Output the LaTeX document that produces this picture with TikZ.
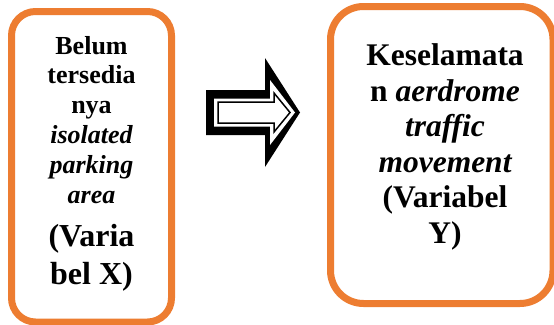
\documentclass[tikz,border=0pt]{standalone}
\usepackage{fontspec}
\setmainfont{Liberation Serif}
\definecolor{boxorange}{HTML}{ED7D31}
\begin{document}
\begin{tikzpicture}[x=1pt,y=-1pt,
  varbox/.style={draw=boxorange, line width=7pt, fill=white, inner sep=0pt},
  smalltxt/.style={anchor=base, inner sep=0pt, font=\fontsize{26}{30}\selectfont\bfseries},
  bigtxt/.style={anchor=base, inner sep=0pt, font=\fontsize{32}{38}\selectfont\bfseries},
  righttxt/.style={anchor=base, inner sep=0pt, font=\fontsize{31.5}{36}\selectfont\bfseries}]
\useasboundingbox (0,0) rectangle (554,324);
% boxes
\node[varbox, rounded corners=24pt, minimum width=160pt, minimum height=310.5pt] (X) at (91.5,166.75) {};
\node[varbox, rounded corners=33pt, minimum width=222.5pt, minimum height=297pt] (Y) at (441.75,155) {};
% left text
\node[smalltxt] (l1) at (91.5,54) {Belum};
\node[smalltxt] (l2) at (91.5,83.8) {tersedia};
\node[smalltxt] (l3) at (91.5,113.6) {nya};
\node[smalltxt] (l4) at (91.5,143.4) {\itshape isolated};
\node[smalltxt] (l5) at (91.5,173.2) {\itshape parking};
\node[smalltxt] (l6) at (91.5,203) {\itshape area};
\node[bigtxt] (l7) at (91.5,246) {(Varia};
\node[bigtxt] (l8) at (91.5,284) {bel X)};
% right text
\node[righttxt] (r1) at (445,65.5) {Keselamata};
\node[righttxt] (r2) at (445,101) {n \textit{aerdrome}};
\node[righttxt] (r3) at (445,136.5) {\itshape traffic};
\node[righttxt] (r4) at (445,172) {\itshape movement};
\node[righttxt] (r5) at (445,207.5) {(Variabel};
\node[righttxt] (r6) at (445,243) {Y)};
% block arrow between the boxes
\coordinate (ta) at (206,90);
\fill[black] (ta) -- (265,90) -- (265,58) -- (300,112.5) -- (265,167) -- (265,135) -- (206,135) -- cycle;
\fill[white] (214,98.5) -- (270,98.5) -- (270,80) -- (295,112.5) -- (270,145) -- (270,126.5) -- (214,126.5) -- cycle;
\draw[black, line width=1.5pt, line join=miter] (218,102) -- (274,102) -- (274,93) -- (290,112.5) -- (274,132) -- (274,123) -- (218,123) -- cycle;
\end{tikzpicture}
\end{document}
